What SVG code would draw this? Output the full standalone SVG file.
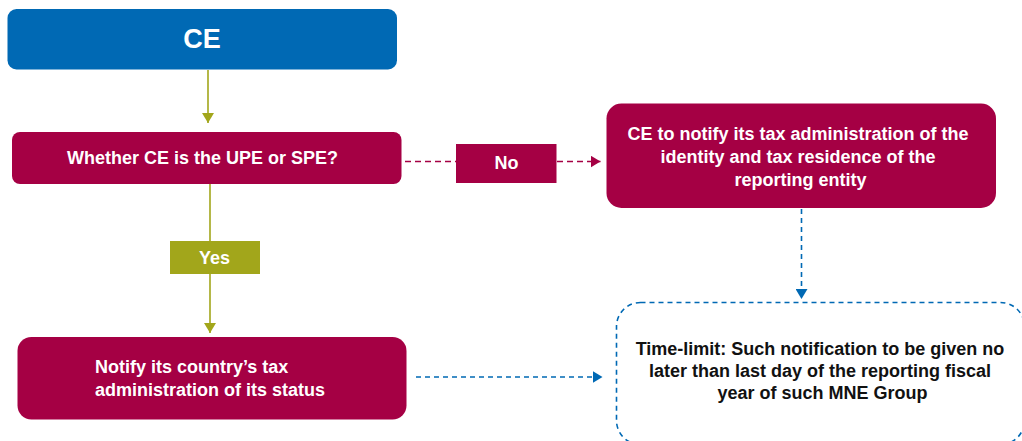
<svg xmlns="http://www.w3.org/2000/svg" width="1022" height="441" viewBox="0 0 1022 441">
  <defs>
    <style>
      .t { font-family: "Liberation Sans Narrow", "Liberation Sans", Arial, sans-serif; font-weight: bold; font-stretch: condensed; }
      .w { fill: #ffffff; }
      .k { fill: #111111; }
      .blue { fill: #0069B4; }
      .crim { fill: #A50044; }
      .olive { fill: #A2A61B; }
      .ln-olive { stroke: #A2A61B; stroke-width: 1.6; fill: none; }
      .ln-crim { stroke: #A50044; stroke-width: 1.6; fill: none; stroke-dasharray: 6 4; }
      .ln-blue { stroke: #0069B4; stroke-width: 1.6; fill: none; stroke-dasharray: 5 4; }
    </style>
    <marker id="ah-olive" markerWidth="12" markerHeight="12" refX="10" refY="6" orient="auto" markerUnits="userSpaceOnUse">
      <path d="M0,0 L10,6 L0,12 Z" fill="#A2A61B"/>
    </marker>
    <marker id="ah-crim" markerWidth="12" markerHeight="12" refX="10" refY="6" orient="auto" markerUnits="userSpaceOnUse">
      <path d="M0,0 L10,6 L0,12 Z" fill="#A50044"/>
    </marker>
    <marker id="ah-blue" markerWidth="12" markerHeight="12" refX="10" refY="6" orient="auto" markerUnits="userSpaceOnUse">
      <path d="M0,0 L10,6 L0,12 Z" fill="#0069B4"/>
    </marker>
  </defs>

  <rect width="1022" height="441" fill="#ffffff"/>

  <!-- connectors -->
  <g id="connectors">
    <path class="ln-olive" d="M208,70 V123" marker-end="url(#ah-olive)"/>
    <path class="ln-olive" d="M210,184 V241"/>
    <path class="ln-olive" d="M210,274 V333" marker-end="url(#ah-olive)"/>
    <path class="ln-crim" d="M405,161.5 H456"/>
    <path class="ln-crim" d="M557,161.5 H600.5" marker-end="url(#ah-crim)"/>
    <path class="ln-blue" d="M801.5,209 V299" marker-end="url(#ah-blue)"/>
    <path class="ln-blue" d="M416,377 H602.5" marker-end="url(#ah-blue)"/>
  </g>

  <!-- nodes -->
  <g id="node-ce">
    <rect class="blue" x="7.5" y="9" width="389.5" height="60.5" rx="9"/>
    <text class="t w" x="202" y="48" font-size="27" text-anchor="middle">CE</text>
  </g>

  <g id="node-question">
    <rect class="crim" x="12" y="132" width="389.5" height="52" rx="8"/>
    <text class="t w" x="202.5" y="163.5" font-size="18" text-anchor="middle">Whether CE is the UPE or SPE?</text>
  </g>

  <g id="label-no">
    <rect class="crim" x="456" y="144" width="100.5" height="39"/>
    <text class="t w" x="506.5" y="169" font-size="18" text-anchor="middle">No</text>
  </g>

  <g id="node-notify-entity">
    <rect class="crim" x="606.5" y="103.5" width="389.5" height="104.5" rx="15"/>
    <text class="t w" font-size="18" text-anchor="middle">
      <tspan x="800.5" y="140">CE to notify its tax administration of the</tspan>
      <tspan x="800.5" y="163">identity and tax residence of the</tspan>
      <tspan x="800.5" y="186">reporting entity</tspan>
    </text>
  </g>

  <g id="label-yes">
    <rect class="olive" x="170" y="241" width="90" height="33"/>
    <text class="t w" x="214.5" y="264" font-size="18" text-anchor="middle">Yes</text>
  </g>

  <g id="node-notify-status">
    <rect class="crim" x="17.5" y="337" width="389" height="82.5" rx="14"/>
    <text class="t w" font-size="18">
      <tspan x="95" y="373">Notify its country’s tax</tspan>
      <tspan x="95" y="395.5">administration of its status</tspan>
    </text>
  </g>

  <g id="node-time-limit">
    <rect class="ln-blue" x="616.5" y="302.5" width="408" height="142" rx="24"/>
    <text class="t k" font-size="18" text-anchor="middle">
      <tspan x="822.5" y="355">Time-limit: Such notification to be given no</tspan>
      <tspan x="822.5" y="377">later than last day of the reporting fiscal</tspan>
      <tspan x="822.5" y="398.5">year of such MNE Group</tspan>
    </text>
  </g>
</svg>
